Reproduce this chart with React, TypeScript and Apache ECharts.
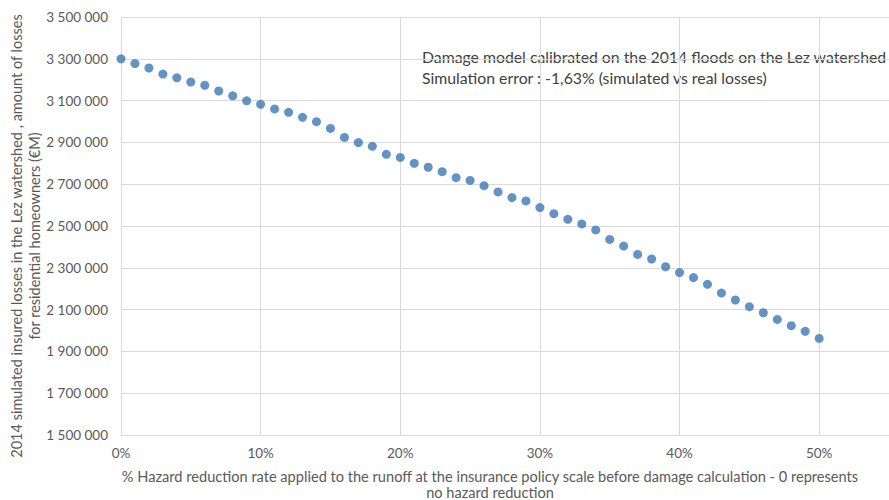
import React, { useEffect, useRef } from "react";
import * as echarts from "echarts";

const reductionRates = [
  0, 0.01, 0.02, 0.03, 0.04, 0.05, 0.06, 0.07, 0.08, 0.09,
  0.1, 0.11, 0.12, 0.13, 0.14, 0.15, 0.16, 0.17, 0.18, 0.19,
  0.2, 0.21, 0.22, 0.23, 0.24, 0.25, 0.26, 0.27, 0.28, 0.29,
  0.3, 0.31, 0.32, 0.33, 0.34, 0.35, 0.36, 0.37, 0.38, 0.39,
  0.4, 0.41, 0.42, 0.43, 0.44, 0.45, 0.46, 0.47, 0.48, 0.49, 0.5,
];
const simulatedLosses = [
  3300000, 3277000, 3256000, 3227000, 3209000, 3189000, 3173000, 3146000, 3123000, 3099000,
  3082000, 3060000, 3044000, 3020000, 2999000, 2967000, 2924000, 2899000, 2881000, 2843000,
  2828000, 2800000, 2781000, 2760000, 2731000, 2718000, 2693000, 2663000, 2636000, 2620000,
  2588000, 2559000, 2532000, 2510000, 2481000, 2436000, 2404000, 2364000, 2342000, 2305000,
  2277000, 2253000, 2221000, 2179000, 2146000, 2114000, 2085000, 2053000, 2023000, 1996000, 1962000,
];
const yAxisTitleLines = [
  "2014 simulated insured losses in the Lez watershed , amount of losses",
  "for residential homeowners (€M)",
];
const xAxisTitleLines = [
  "% Hazard reduction rate applied to the runoff at the insurance policy scale before damage calculation - 0 represents",
  "no hazard reduction",
];
const annotationLines = [
  "Damage model calibrated on the 2014 floods on the Lez watershed",
  "Simulation error : -1,63% (simulated vs real losses)",
];

const FONT = "Lato, 'Open Sans', sans-serif";
const TEXT = "#595959";
const GRID = "#d9d9d9";

export default function App() {
  const ref = useRef<HTMLDivElement>(null);
  useEffect(() => {
    if (!ref.current) return;
    const chart = echarts.init(ref.current, null, { renderer: "svg" });
    const fmtY = (v: number) =>
      String(Math.round(v)).replace(/\B(?=(\d{3})+(?!\d))/g, " ");
    chart.setOption({
      animation: false,
      backgroundColor: "#ffffff",
      textStyle: { fontFamily: FONT },
      grid: { left: 121, right: 0, top: 17, bottom: 65 },
      xAxis: {
        type: "value",
        min: 0,
        max: 0.55,
        interval: 0.1,
        axisLine: { show: true, lineStyle: { color: GRID } },
        axisTick: { show: false },
        splitLine: { show: true, lineStyle: { color: GRID, width: 1 } },
        axisLabel: {
          color: TEXT,
          fontSize: 13.5,
          fontFamily: FONT,
          margin: 11,
          showMaxLabel: false,
          formatter: (v: number) => {
            const p = Math.round(v * 100);
            return p % 10 === 0 ? p + "%" : "";
          },
        },
      },
      yAxis: {
        type: "value",
        min: 1500000,
        max: 3500000,
        interval: 200000,
        axisLine: { show: true, lineStyle: { color: GRID } },
        axisTick: { show: false },
        splitLine: { show: true, lineStyle: { color: GRID, width: 1 } },
        axisLabel: {
          color: TEXT,
          fontSize: 13.5,
          fontFamily: FONT,
          margin: 13,
          formatter: fmtY,
        },
      },
      series: [
        {
          type: "scatter",
          symbol: "circle",
          symbolSize: 9,
          itemStyle: { color: "#3c77b6" },
          data: reductionRates.map((x, i) => [x, simulatedLosses[i]]),
        },
      ],
      graphic: [
        {
          type: "text",
          x: 25,
          y: 236,
          rotation: Math.PI / 2,
          style: {
            text: yAxisTitleLines.join("\n"),
            fill: TEXT,
            font: `14.5px ${FONT}`,
            textAlign: "center",
            textVerticalAlign: "middle",
            lineHeight: 18,
          },
        },
        {
          type: "text",
          x: 490,
          y: 476,
          style: {
            text: xAxisTitleLines[0],
            fill: TEXT,
            font: `14.6px ${FONT}`,
            textAlign: "center",
            textVerticalAlign: "middle",
          },
        },
        {
          type: "text",
          x: 490,
          y: 492,
          style: {
            text: xAxisTitleLines[1],
            fill: TEXT,
            font: `14.6px ${FONT}`,
            textAlign: "center",
            textVerticalAlign: "middle",
          },
        },
        {
          type: "text",
          x: 422,
          y: 67,
          style: {
            text: annotationLines.join("\n"),
            fill: "#404040",
            font: `15.8px ${FONT}`,
            textAlign: "left",
            textVerticalAlign: "middle",
            lineHeight: 21,
          },
        },
      ],
    });
    return () => chart.dispose();
  }, []);
  return (
    <div
      ref={ref}
      style={{ position: "fixed", left: 0, top: 0, width: 889, height: 500 }}
    />
  );
}
